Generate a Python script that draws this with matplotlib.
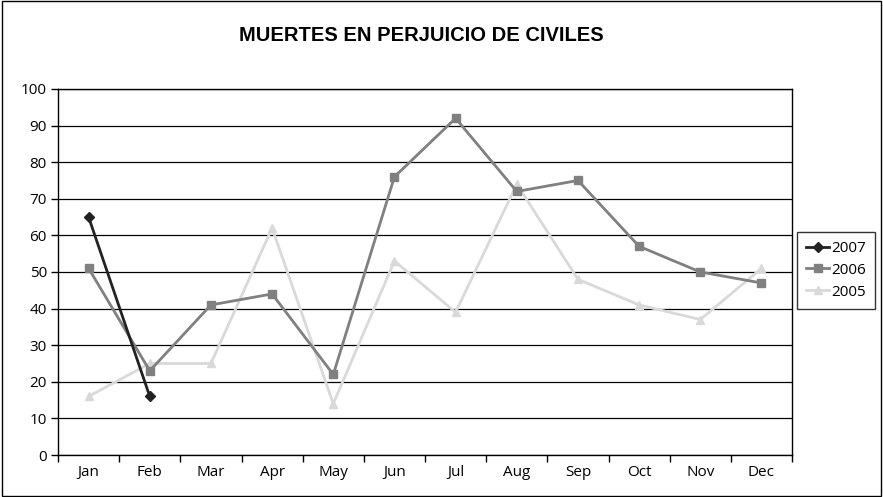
import matplotlib
matplotlib.use("Agg")
import matplotlib.pyplot as plt
from matplotlib.patches import Rectangle

"""Data read from the chart"""
months = ['Jan', 'Feb', 'Mar', 'Apr', 'May', 'Jun', 'Jul', 'Aug', 'Sep', 'Oct', 'Nov', 'Dec']
deaths_2007 = [65, 16]
deaths_2006 = [51, 23, 41, 44, 22, 76, 92, 72, 75, 57, 50, 47]
deaths_2005 = [16, 25, 25, 62, 14, 53, 39, 74, 48, 41, 37, 51]

plt.rcParams['font.family'] = ['Open Sans', 'DejaVu Sans']

fig = plt.figure(figsize=(8.83, 4.97), dpi=100)
ax = fig.add_axes([0.0657, 0.0845, 0.8313, 0.7365])

"""Plot the three years"""
x_all = list(range(len(months)))
ax.plot(x_all[:len(deaths_2007)], deaths_2007, color='#222222', marker='D', markersize=5,
        linewidth=2, label='2007', zorder=5)
ax.plot(x_all, deaths_2006, color='#808080', marker='s', markersize=6,
        linewidth=2, label='2006', zorder=4)
ax.plot(x_all, deaths_2005, color='#d9d9d9', marker='^', markersize=6,
        linewidth=2, label='2005', zorder=3)

ax.set_xlim(-0.5, len(months) - 0.5)
ax.set_ylim(0, 100)
ax.set_yticks(range(0, 101, 10))
ax.yaxis.grid(True, color='black', linewidth=0.9)
ax.set_axisbelow(True)

"""Category axis: tick marks between months, labels centred"""
ax.set_xticks([i - 0.5 for i in range(len(months) + 1)])
ax.set_xticklabels([])
ax.set_xticks(x_all, minor=True)
ax.set_xticklabels(months, minor=True, fontsize=11)
ax.tick_params(axis='x', which='minor', length=0, pad=7)
ax.tick_params(axis='x', which='major', length=5, direction='out', width=1)
ax.tick_params(axis='y', length=5, direction='out', width=1, labelsize=11, pad=3)

for s in ax.spines.values():
    s.set_color('black')
    s.set_linewidth(1)

fig.text(0.477, 0.928, 'MUERTES EN PERJUICIO DE CIVILES', ha='center', va='center',
         fontsize=14.5, fontweight='bold', family=['Liberation Sans', 'DejaVu Sans'])

leg = ax.legend(loc='upper left', bbox_to_anchor=(1.007, 0.61), frameon=True,
                fancybox=False, edgecolor='black', fontsize=11, handlelength=1.5,
                handletextpad=0.1, borderpad=0.6, labelspacing=0.45, borderaxespad=0)
leg.get_frame().set_linewidth(1)

"""Outer border of the chart"""
fig.patches.append(Rectangle((0.002, 0.003), 0.996, 0.994, transform=fig.transFigure,
                             fill=False, edgecolor='black', linewidth=1))

fig.savefig('out.png', dpi=100)
